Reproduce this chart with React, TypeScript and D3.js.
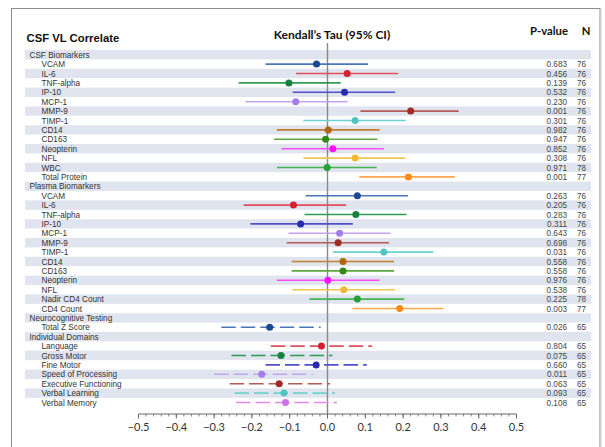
import React from "react";
import * as d3 from "d3";

// Section headings and the measures listed under each
const sections = ["CSF Biomarkers", "Plasma Biomarkers", "Neurocognitive Testing", "Individual Domains"];
const csfItems = ["VCAM", "IL-6", "TNF-alpha", "IP-10", "MCP-1", "MMP-9", "TIMP-1", "CD14", "CD163", "Neopterin", "NFL", "WBC", "Total Protein"];
const plasmaItems = ["VCAM", "IL-6", "TNF-alpha", "IP-10", "MCP-1", "MMP-9", "TIMP-1", "CD14", "CD163", "Neopterin", "NFL", "Nadir CD4 Count", "CD4 Count"];
const neuroItems = ["Total Z Score"];
const domainItems = ["Language", "Gross Motor", "Fine Motor", "Speed of Processing", "Executive Functioning", "Verbal Learning", "Verbal Memory"];

// Kendall's tau with 95% CI, in item order (CSF, plasma, total score, domains)
const tau = [
  -0.029, 0.052, -0.102, 0.045, -0.084, 0.22, 0.073, 0.002, -0.005, 0.014, 0.073, -0.001, 0.214,
  0.079, -0.09, 0.075, -0.071, 0.032, 0.028, 0.149, 0.041, 0.041, 0.001, 0.043, 0.079, 0.191,
  -0.153,
  -0.016, -0.123, -0.03, -0.174, -0.128, -0.115, -0.111,
];
const lower = [
  -0.164, -0.083, -0.235, -0.092, -0.217, 0.087, -0.064, -0.134, -0.141, -0.122, -0.064, -0.134, 0.084,
  -0.058, -0.222, -0.061, -0.204, -0.103, -0.108, 0.014, -0.095, -0.095, -0.134, -0.093, -0.048, 0.066,
  -0.281,
  -0.15, -0.254, -0.164, -0.3, -0.259, -0.246, -0.242,
];
const upper = [
  0.107, 0.187, 0.035, 0.179, 0.053, 0.347, 0.207, 0.138, 0.132, 0.149, 0.205, 0.13, 0.337,
  0.213, 0.049, 0.209, 0.067, 0.167, 0.163, 0.28, 0.176, 0.176, 0.138, 0.179, 0.203, 0.307,
  -0.018,
  0.118, 0.013, 0.104, -0.039, 0.007, 0.02, 0.025,
];
const pValues = [
  "0.683", "0.456", "0.139", "0.532", "0.230", "0.001", "0.301", "0.982", "0.947", "0.852", "0.308", "0.971", "0.001",
  "0.263", "0.205", "0.283", "0.311", "0.643", "0.698", "0.031", "0.558", "0.558", "0.976", "0.538", "0.225", "0.003",
  "0.026",
  "0.804", "0.075", "0.660", "0.011", "0.063", "0.093", "0.108",
];
const nValues = [
  76, 76, 76, 76, 76, 76, 76, 76, 76, 76, 76, 78, 77,
  76, 76, 76, 76, 76, 76, 76, 76, 76, 76, 76, 78, 77,
  65,
  65, 65, 65, 65, 65, 65, 65,
];
const axisTicks = [-0.5, -0.4, -0.3, -0.2, -0.1, 0.0, 0.1, 0.2, 0.3, 0.4, 0.5];

// [interval line, point] colours
const biomarkerPalette: [string, string][] = [
  ["#4a76b8", "#1b4a8f"],
  ["#e0505a", "#d42030"],
  ["#2f9c55", "#16803f"],
  ["#5050c8", "#2a2ab0"],
  ["#c4a4f2", "#a37de8"],
  ["#b55a55", "#a02c28"],
  ["#6dd3d0", "#52c4c2"],
  ["#c47e2e", "#b0660e"],
  ["#5aa83e", "#2e8a14"],
  ["#ff4cff", "#ff10ff"],
  ["#f2c550", "#f0b935"],
  ["#45b552", "#26a036"],
  ["#ffa64d", "#ff8a1a"],
];
const plasmaPalette = biomarkerPalette;
const neuroPalette: [string, string][] = [["#4a76b8", "#1b4a8f"]];
const domainPalette: [string, string][] = [
  ["#e0505a", "#d42030"],
  ["#2f9c55", "#16803f"],
  ["#5050c8", "#2a2ab0"],
  ["#c4a4f2", "#a37de8"],
  ["#b55a55", "#a02c28"],
  ["#6dd3d0", "#52c4c2"],
  ["#e08ae8", "#d070e6"],
];

type Row = {
  label: string;
  header: boolean;
  idx: number; // index into the value arrays, -1 for headings
  dashed: boolean;
  colors?: [string, string];
};

function buildRows(): Row[] {
  const groups: [string, string[], [string, string][], boolean][] = [
    [sections[0], csfItems, biomarkerPalette, false],
    [sections[1], plasmaItems, plasmaPalette, false],
    [sections[2], neuroItems, neuroPalette, true],
    [sections[3], domainItems, domainPalette, true],
  ];
  const rows: Row[] = [];
  let k = 0;
  for (const [title, items, pal, dashed] of groups) {
    rows.push({ label: title, header: true, idx: -1, dashed });
    items.forEach((it, i) => {
      rows.push({ label: it, header: false, idx: k, dashed, colors: pal[i] });
      k++;
    });
  }
  return rows;
}

const W = 605;
const H = 447;
const headFont = "Lato, 'Liberation Sans', sans-serif";
const rowFont = "'Liberation Sans', Arial, sans-serif";

export default function App() {
  const rows = buildRows();
  const x = d3.scaleLinear().domain([-0.5, 0.5]).range([138.5, 516.5]);
  const y = d3
    .scaleBand<number>()
    .domain(rows.map((_, i) => i))
    .range([50, 50 + rows.length * 9.4])
    .paddingInner(0)
    .paddingOuter(0);
  const bw = y.bandwidth();
  const minorTicks = d3.range(-50, 51, 2).map((v) => v / 100);
  const axisY = 414;

  return (
    <svg
      width={W}
      height={H}
      style={{ position: "absolute", left: 0, top: 0, background: "#fff" }}
      fontFamily={headFont}
    >
      <rect x={0} y={0} width={W} height={H} fill="#fff" />
      {/* frame */}
      <rect x={11.5} y={8.5} width={588.5} height={460} fill="none" stroke="#8c8c8c" strokeWidth={1} />
      <line x1={601} x2={601} y1={9} y2={H} stroke="#d0d0d0" strokeWidth={1} />

      {/* headings */}
      <text x={26.5} y={42.3} fontFamily={rowFont} fontWeight="bold" fontSize={11.3} fill="#111">
        CSF VL Correlate
      </text>
      <text x={332} y={38.5} textAnchor="middle" fontWeight="bold" fontSize={12} fill="#111">
        Kendall’s Tau (95% CI)
      </text>
      <text x={549} y={34.5} textAnchor="middle" fontWeight="bold" fontSize={11.3} fill="#111">
        P-value
      </text>
      <text x={586} y={34.5} textAnchor="middle" fontWeight="bold" fontSize={11.3} fill="#111">
        N
      </text>

      {/* alternating row bands */}
      {rows.map((r, i) =>
        i % 2 === 0 ? (
          <rect key={"b" + i} x={25} y={y(i)!} width={566} height={bw} fill="#dfe4ee" />
        ) : null
      )}

      {/* zero reference line */}
      <line x1={x(0)} x2={x(0)} y1={43} y2={axisY} stroke="#888" strokeWidth={1.4} />

      {/* row labels, p-values and N */}
      {rows.map((r, i) => {
        const cy = y(i)! + bw / 2;
        return (
          <g key={"t" + i} fontFamily={rowFont} fontSize={8.2}>
            <text x={r.header ? 29.5 : 41.5} y={cy + 3} fill="#333">
              {r.label}
            </text>
            {!r.header && (
              <>
                <text x={567} y={cy + 3} textAnchor="end" fill="#444">
                  {pValues[r.idx]}
                </text>
                <text x={586} y={cy + 3} textAnchor="end" fill="#444">
                  {nValues[r.idx]}
                </text>
              </>
            )}
          </g>
        );
      })}

      {/* confidence intervals and estimates */}
      {rows.map((r, i) => {
        if (r.header || !r.colors) return null;
        const cy = y(i)! + bw / 2;
        return (
          <g key={"m" + i}>
            <line
              x1={x(lower[r.idx])}
              x2={x(upper[r.idx])}
              y1={cy}
              y2={cy}
              stroke={r.colors[0]}
              strokeWidth={1.6}
              strokeDasharray={r.dashed ? "14.5 5" : undefined}
            />
            <circle cx={x(tau[r.idx])} cy={cy} r={3.5} fill={r.colors[1]} />
          </g>
        );
      })}

      {/* x axis */}
      <line x1={x(-0.5)} x2={x(0.5)} y1={axisY} y2={axisY} stroke="#666" strokeWidth={1} />
      {minorTicks.map((t) => (
        <line key={"mt" + t} x1={x(t)} x2={x(t)} y1={axisY} y2={axisY + 2.5} stroke="#666" strokeWidth={0.8} />
      ))}
      {axisTicks.map((t) => (
        <g key={"at" + t}>
          <line x1={x(t)} x2={x(t)} y1={axisY} y2={axisY + 4.5} stroke="#666" strokeWidth={1} />
          <text x={x(t)} y={431} textAnchor="middle" fontSize={11} fill="#333">
            {d3.format(".1f")(t)}
          </text>
        </g>
      ))}
    </svg>
  );
}
